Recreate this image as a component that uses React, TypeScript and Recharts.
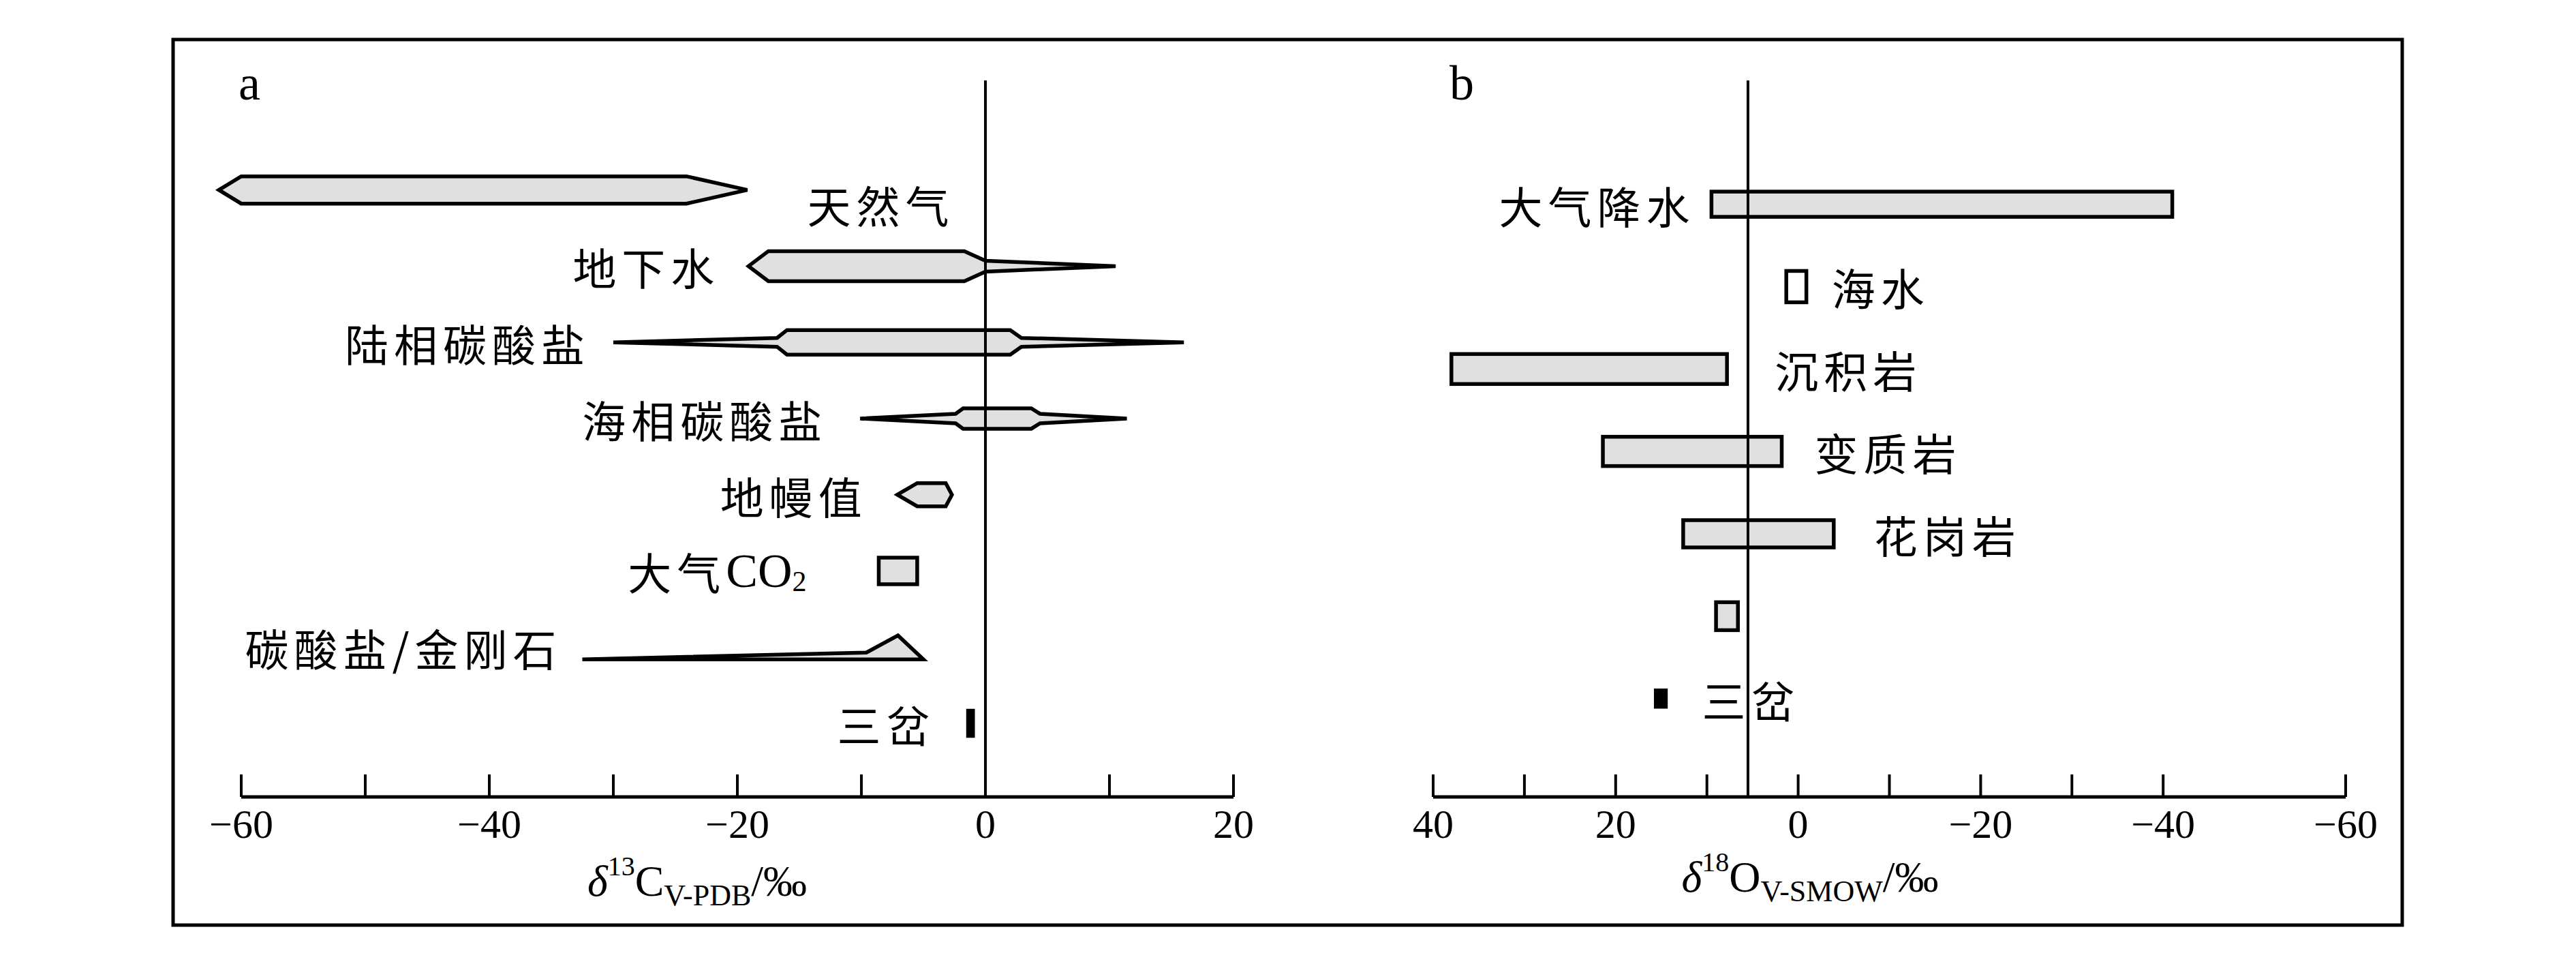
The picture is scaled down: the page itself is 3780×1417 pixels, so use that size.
import React from "react";
import { BarChart, Bar, XAxis, YAxis, ReferenceLine } from "recharts";

// ---------- panel a : δ13C (‰, V-PDB) ----------
const carbonNames = ["天然气", "地下水", "陆相碳酸盐", "海相碳酸盐", "地幔值", "大气CO2", "碳酸盐/金刚石", "三岔"];
// outline stops of each field, left -> right:
// [tail start, body tip, body shoulder, body shoulder, body tip, tail end]
const carbonStops = [
  [-61.8, -61.8, -60.0, -24.1, -19.2, -19.2],
  [-19.1, -19.1, -17.5, -1.7, 0.0, 10.5],
  [-30.0, -16.8, -16.0, 2.0, 2.9, 16.0],
  [-10.1, -2.4, -1.8, 3.7, 4.4, 11.4],
  [-7.1, -7.1, -5.5, -3.2, -2.7, -2.7],
  [-8.6, -8.6, -8.6, -5.5, -5.5, -5.5],
  [-32.5, -9.6, -7.05, -7.05, -5.0, -5.0],
  [-1.4, -1.4, -1.4, -1.0, -1.0, -1.0],
];
const carbonTicks = [-60, -50, -40, -30, -20, -10, 0, 10, 20];
const carbonTickLabels = [-60, -40, -20, 0, 20];
const carbonRefLine = 0;

// ---------- panel b : δ18O (‰, V-SMOW) ----------
const oxygenNames = ["大气降水", "海水", "沉积岩", "变质岩", "花岗岩", "", "三岔"];
const oxygenMin = [-41, -0.9, 7.8, 1.8, -3.9, 6.6, 14.5];
const oxygenMax = [9.5, 1.3, 38, 21.4, 12.6, 9.0, 15.6];
const oxygenTicks = [40, 30, 20, 10, 0, -10, -20, -30, -40, -60];
const oxygenTickLabels = [40, 20, 0, -20, -40, -60];
const oxygenRefLine = 5.5;

const carbonData = carbonNames.map((name, i) => ({
  row: i,
  name,
  stops: carbonStops[i],
  range: [Math.max(carbonStops[i][0], -60), carbonStops[i][5]],
}));
const oxygenData = oxygenNames.map((name, i) => ({
  row: i,
  name,
  range: [oxygenMin[i], oxygenMax[i]],
}));

const GRAY = "#e0e0e0";
const CJK = "Noto Sans CJK SC";
const SERIF = "Liberation Serif";
const OUTLINE = 5.5;

// drawing styles per row (thickness, fill, where the name goes)
const carbonStyle = [
  { kind: "spindle", half: 20, neckL: 0, neckR: 0, fill: GRAY, side: "right", gap: 88, dy: 20 },
  { kind: "spindle", half: 22, neckL: 0, neckR: 8, fill: GRAY, side: "left", gap: 42, dy: 0 },
  { kind: "spindle", half: 18, neckL: 6.5, neckR: 6.5, fill: GRAY, side: "left", gap: 34, dy: 0 },
  { kind: "spindle", half: 15, neckL: 7, neckR: 7, fill: GRAY, side: "left", gap: 48, dy: 0 },
  { kind: "spindle", half: 17, neckL: 0, neckR: 0, fill: GRAY, side: "left", gap: 44, dy: 0 },
  { kind: "spindle", half: 19.5, neckL: 0, neckR: 0, fill: GRAY, side: "left", gap: 106, dy: 0 },
  { kind: "wedge", half: 18, neckL: 0, neckR: 0, fill: GRAY, side: "left", gap: 30, dy: 0 },
  { kind: "spindle", half: 18.5, neckL: 0, neckR: 0, fill: "#000", side: "left", gap: 48, dy: 0 },
];
const oxygenStyle = [
  { half: 18.5, fill: GRAY, side: "left", gap: 24 },
  { half: 23, fill: "#fff", side: "right", gap: 37 },
  { half: 22, fill: GRAY, side: "right", gap: 70 },
  { half: 21.5, fill: GRAY, side: "right", gap: 48 },
  { half: 20, fill: GRAY, side: "right", gap: 59 },
  { half: 20.5, fill: GRAY, side: "right", gap: 0 },
  { half: 12, fill: "#000", side: "right", gap: 53 },
];

const NameText = ({ x, y, anchor, name }) => {
  if (!name) return null;
  if (name === "大气CO2") {
    return (
      <text x={x} y={y} textAnchor={anchor} dominantBaseline="central" fontFamily={CJK} fontSize={64} letterSpacing={8}>
        大气
        <tspan fontFamily={SERIF} fontSize={70} letterSpacing={0}>CO</tspan>
        <tspan fontFamily={SERIF} fontSize={42} letterSpacing={0} dy={16}>2</tspan>
      </text>
    );
  }
  return (
    <text x={x} y={y} textAnchor={anchor} dominantBaseline="central" fontFamily={CJK} fontSize={64} letterSpacing={8}>
      {name}
    </text>
  );
};

const carbonShape = (props) => {
  const { x, y, width, height, payload } = props;
  const st = carbonStyle[payload.row];
  const [lo, hi] = payload.range;
  const px = (v) => x + ((v - lo) / (hi - lo)) * width;
  const cy = y + height / 2;
  const s = payload.stops;
  let pts;
  if (st.kind === "wedge") {
    pts = [
      [px(s[0]), cy + st.half],
      [px(s[1]), cy + st.half - 10],
      [px(s[2]), cy - st.half + 1],
      [px(s[4]), cy + st.half],
    ];
  } else {
    pts = [
      [px(s[0]), cy],
      [px(s[1]), cy - st.neckL],
      [px(s[2]), cy - st.half],
      [px(s[3]), cy - st.half],
      [px(s[4]), cy - st.neckR],
      [px(s[5]), cy],
      [px(s[4]), cy + st.neckR],
      [px(s[3]), cy + st.half],
      [px(s[2]), cy + st.half],
      [px(s[1]), cy + st.neckL],
    ];
  }
  const lx = st.side === "left" ? px(s[0]) - st.gap : px(s[5]) + st.gap;
  return (
    <g>
      <polygon
        points={pts.map((p) => p.join(",")).join(" ")}
        fill={st.fill}
        stroke="#000"
        strokeWidth={OUTLINE}
        strokeLinejoin="miter"
      />
      <NameText x={lx} y={cy + st.dy} anchor={st.side === "left" ? "end" : "start"} name={payload.name} />
    </g>
  );
};

const oxygenShape = (props) => {
  const { x, y, width, height, payload } = props;
  const st = oxygenStyle[payload.row];
  const left = Math.min(x, x + width);
  const right = Math.max(x, x + width);
  const cy = y + height / 2;
  const lx = st.side === "left" ? left - st.gap : right + st.gap;
  return (
    <g>
      <rect x={left} y={cy - st.half} width={right - left} height={st.half * 2} fill={st.fill} stroke="#000" strokeWidth={OUTLINE} />
      <NameText x={lx} y={cy} anchor={st.side === "left" ? "end" : "start"} name={payload.name} />
    </g>
  );
};

const makeTick = (labeled) => (props) => {
  const { x, y, payload } = props;
  const v = payload.value;
  return (
    <g>
      <line x1={x} y1={y} x2={x} y2={y - 33} stroke="#000" strokeWidth={4} />
      {labeled.includes(v) && (
        <text x={x} y={y + 60} textAnchor="middle" fontFamily={SERIF} fontSize={60} fill="#000">
          {v < 0 ? `\u2212${-v}` : v}
        </text>
      )}
    </g>
  );
};

export default function App() {
  return (
    <div style={{ position: "absolute", left: 0, top: 0, width: 3780, height: 1417, background: "#fff" }}>
      <svg width={3780} height={1417} style={{ position: "absolute", left: 0, top: 0 }}>
        <rect x={254} y={58} width={3271} height={1299} fill="none" stroke="#000" strokeWidth={5} />
        <text x={350} y={146} fontFamily={SERIF} fontSize={72}>a</text>
        <text x={2127} y={146} fontFamily={SERIF} fontSize={72}>b</text>
        <text x={1023} y={1314} textAnchor="middle" fontFamily={SERIF} fontSize={64}>
          <tspan fontStyle="italic">δ</tspan>
          <tspan fontSize={40} dy={-30}>13</tspan>
          <tspan dy={30}>C</tspan>
          <tspan fontSize={44} dy={14}>V-PDB</tspan>
          <tspan dy={-14}>/‰</tspan>
        </text>
        <text x={2656} y={1308} textAnchor="middle" fontFamily={SERIF} fontSize={64}>
          <tspan fontStyle="italic">δ</tspan>
          <tspan fontSize={40} dy={-30}>18</tspan>
          <tspan dy={30}>O</tspan>
          <tspan fontSize={44} dy={14}>V-SMOW</tspan>
          <tspan dy={-14}>/‰</tspan>
        </text>
      </svg>

      <div style={{ position: "absolute", left: 0, top: 0 }}>
        <BarChart
          width={2000}
          height={1417}
          data={carbonData}
          layout="vertical"
          margin={{ top: 118, left: 354, right: 190, bottom: 188 }}
        >
          <XAxis
            type="number"
            domain={[-60, 20]}
            ticks={carbonTicks}
            interval={0}
            height={60}
            tickSize={0}
            tickMargin={0}
            tickLine={false}
            axisLine={{ stroke: "#000", strokeWidth: 5 }}
            tick={makeTick(carbonTickLabels)}
          />
          <YAxis type="category" dataKey="row" hide padding={{ top: 105, bottom: 52 }} />
          <ReferenceLine x={carbonRefLine} stroke="#000" strokeWidth={4} />
          <Bar dataKey="range" shape={carbonShape} isAnimationActive={false} />
        </BarChart>
      </div>

      <div style={{ position: "absolute", left: 2000, top: 0 }}>
        <BarChart
          width={1780}
          height={1417}
          data={oxygenData}
          layout="vertical"
          margin={{ top: 118, left: 103, right: 338, bottom: 188 }}
        >
          <XAxis
            type="number"
            domain={[-60, 40]}
            reversed
            ticks={oxygenTicks}
            interval={0}
            height={60}
            tickSize={0}
            tickMargin={0}
            tickLine={false}
            axisLine={{ stroke: "#000", strokeWidth: 5 }}
            tick={makeTick(oxygenTickLabels)}
          />
          <YAxis type="category" dataKey="row" hide padding={{ top: 121, bottom: 84 }} />
          <ReferenceLine x={oxygenRefLine} stroke="#000" strokeWidth={4} />
          <Bar dataKey="range" shape={oxygenShape} isAnimationActive={false} />
        </BarChart>
      </div>
    </div>
  );
}
